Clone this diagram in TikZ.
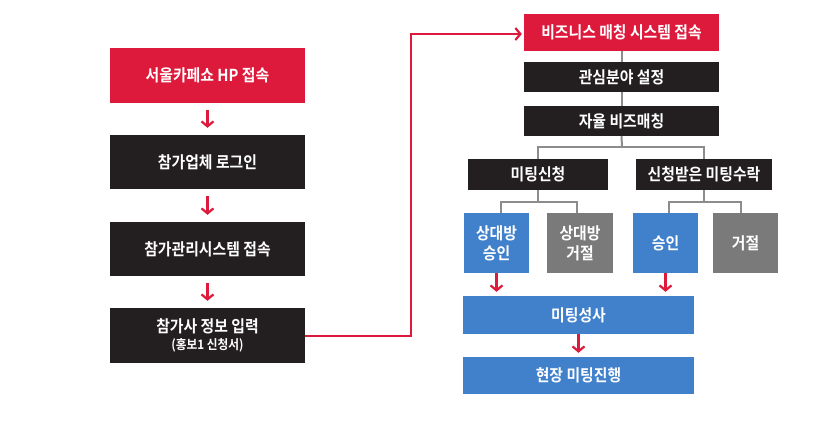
\documentclass[tikz,border=0pt]{standalone}
\usepackage{fontspec}
\setmainfont{Noto Sans CJK KR}[BoldFont={Noto Sans CJK KR Bold}, FakeStretch=0.9]
\usetikzlibrary{arrows.meta}
\definecolor{cred}{HTML}{DE1A3C}
\definecolor{cblack}{HTML}{231F20}
\definecolor{cblue}{HTML}{4181CC}
\definecolor{cgray}{HTML}{7A7A7A}
\definecolor{cline}{HTML}{8C8C8C}
\tikzset{
  box/.style={inner sep=0pt, text=white, align=center, font=\bfseries\fontsize{16.5}{20}\selectfont},
  redbox/.style={box, fill=cred},
  blackbox/.style={box, fill=cblack},
  bluebox/.style={box, fill=cblue},
  graybox/.style={box, fill=cgray},
  redarrow/.style={draw=cred, line width=2.2pt, -{Straight Barb[length=5pt,width=12pt,line width=2.2pt]}},
  conn/.style={draw=cline, line width=2pt}
}
\begin{document}
\begin{tikzpicture}[x=1pt,y=-1pt]
\useasboundingbox (0,0) rectangle (829,434);
% left column
\node[redbox, minimum width=195pt, minimum height=55pt] (l1) at (207.5,75.5) {서울카페쇼 HP 접속};
\node[blackbox, minimum width=195pt, minimum height=54pt] (l2) at (207.5,162) {참가업체 로그인};
\node[blackbox, minimum width=195pt, minimum height=54pt] (l3) at (207.5,249) {참가관리시스템 접속};
\node[blackbox, minimum width=195pt, minimum height=55pt] (l4) at (207.5,335.5) {참가사 정보 입력\\[-3pt]{\fontsize{13}{14}\selectfont (홍보1 신청서)}};
\draw[redarrow, shorten <=7pt, shorten >=7pt] (l1) -- (l2);
\draw[redarrow, shorten <=7pt, shorten >=7pt] (l2) -- (l3);
\draw[redarrow, shorten <=7pt, shorten >=7pt] (l3) -- (l4);
% right column
\node[redbox, minimum width=195pt, minimum height=37pt] (r1) at (621.5,32.5) {비즈니스 매칭 시스템 접속};
\node[blackbox, minimum width=195pt, minimum height=30pt] (r2) at (621.5,77) {관심분야 설정};
\node[blackbox, minimum width=195pt, minimum height=30pt] (r3) at (621.5,121) {자율 비즈매칭};
\node[blackbox, minimum width=140pt, minimum height=31pt] (m1) at (538,174.5) {미팅신청};
\node[blackbox, minimum width=136pt, minimum height=31pt] (m2) at (704,174.5) {신청받은 미팅수락};
\node[bluebox, minimum width=65pt, minimum height=60pt] (a1) at (496.5,243) {상대방\\승인};
\node[graybox, minimum width=66pt, minimum height=60pt] (a2) at (580,243) {상대방\\거절};
\node[bluebox, minimum width=65pt, minimum height=60pt] (a3) at (665.5,243) {승인};
\node[graybox, minimum width=65pt, minimum height=60pt] (a4) at (745.5,243) {거절};
\node[bluebox, minimum width=231pt, minimum height=38pt] (s1) at (578.5,315) {미팅성사};
\node[bluebox, minimum width=231pt, minimum height=37pt] (s2) at (578.5,375.5) {현장 미팅진행};
% connectors
\draw[conn] (r1) -- (r2);
\draw[conn] (r2) -- (r3);
\coordinate (j1) at (622,147);
\draw[conn] (r3.south) -- (j1);
\draw[conn] (m1.north) |- (j1) -| (m2.north);
\coordinate (j2) at (538,201.5);
\coordinate (j3) at (704,201.5);
\draw[conn] (m1.south) -- (j2);
\draw[conn] ([xshift=4pt]a1.north) |- (j2) -| ([xshift=-3pt]a2.north);
\draw[conn] (m2.south) -- (j3);
\draw[conn] ([xshift=3pt]a3.north) |- (j3) -| ([xshift=-5pt]a4.north);
\draw[redarrow, shorten >=4pt] (a1.south) -- (a1.south |- s1.north);
\draw[redarrow, shorten >=4pt] (a3.south) -- (a3.south |- s1.north);
\draw[redarrow, shorten >=4pt] (s1) -- (s2);
\draw[redarrow, line width=2pt] (l4.east) -- ++(106,0) |- ([xshift=-2pt,yshift=-1.5pt]r1.west);
\end{tikzpicture}
\end{document}
